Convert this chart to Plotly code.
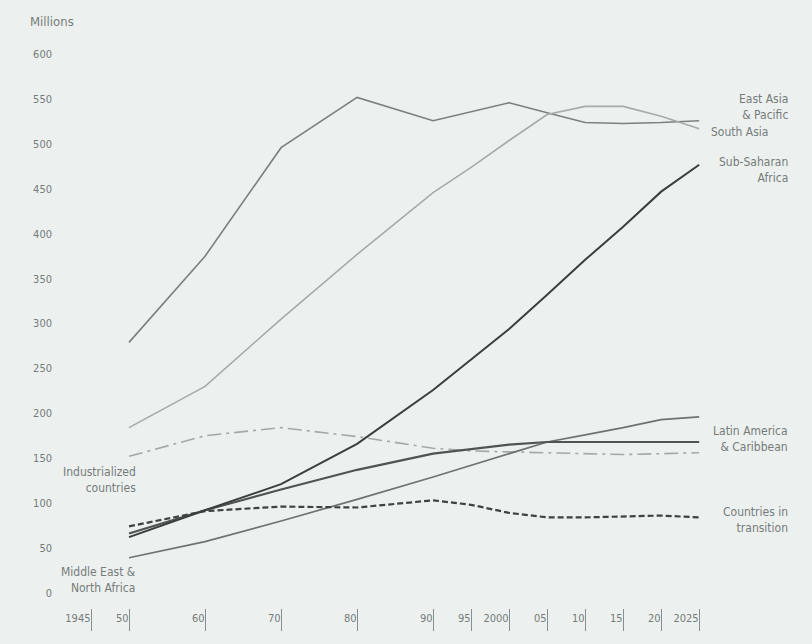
import plotly.graph_objects as go

years = [1950, 1960, 1970, 1980, 1990, 1995, 2000, 2005, 2010, 2015, 2020, 2025]

east_asia = [279, 375, 496, 552, 526, 536, 546, 535, 524, 523, 524, 526]
south_asia = [184, 230, 305, 377, 446, 474, 504, 533, 542, 542, 531, 517]
sub_saharan = [62, 92, 121, 166, 226, 260, 294, 332, 371, 408, 447, 477]
latin_america = [66, 92, 115, 137, 155, 160, 165, 168, 168, 168, 168, 168]
middle_east = [39, 57, 80, 104, 129, 142, 155, 168, 176, 184, 193, 196]
industrialized = [152, 175, 184, 174, 161, 158, 157, 156, 155, 154, 155, 156]
transition = [74, 91, 96, 95, 103, 98, 89, 84, 84, 85, 86, 84]

x_tickvals = [1945, 1950, 1960, 1970, 1980, 1990, 1995, 2000, 2005, 2010, 2015, 2020, 2025]
x_ticktext = ["1945", "50", "60", "70", "80", "90", "95", "2000", "05", "10", "15", "20", "2025"]
y_tickvals = list(range(0, 601, 50))

FONT = "DejaVu Sans Condensed, Liberation Sans Narrow, sans-serif"
TXT = "#767b7a"
BG = "#ecf1ef"

series = [
    ("East Asia & Pacific", east_asia, "#7b807f", 1.6, "solid"),
    ("South Asia", south_asia, "#a6abaa", 1.6, "solid"),
    ("Industrialized countries", industrialized, "#a3a8a7", 1.6, "14px,5px,3px,5px"),
    ("Middle East & North Africa", middle_east, "#6e7372", 1.7, "solid"),
    ("Latin America & Caribbean", latin_america, "#4f5453", 2.2, "solid"),
    ("Countries in transition", transition, "#3e4342", 2.2, "6px,3px"),
    ("Sub-Saharan Africa", sub_saharan, "#3a3f3e", 2.0, "solid"),
]

fig = go.Figure()
for name, vals, color, w, dash in series:
    fig.add_trace(go.Scatter(x=years, y=vals, mode="lines", name=name,
                             line=dict(color=color, width=w, dash=dash),
                             showlegend=False, hoverinfo="skip"))

labels = [
    (2037, 541, "East Asia<br>& Pacific", "right"),
    (2026.3, 513, "South Asia", "left"),
    (2037, 471, "Sub-Saharan<br>Africa", "right"),
    (2037, 171, "Latin America<br>& Caribbean", "right"),
    (2037, 81, "Countries in<br>transition", "right"),
    (1951.2, 126, "Industrialized<br>countries", "right"),
    (1951.2, 14, "Middle East &<br>North Africa", "right"),
]
for x, y, t, anchor in labels:
    fig.add_annotation(x=x, y=y, xref="x", yref="y", text=t, showarrow=False,
                       xanchor=anchor, yanchor="middle", align=anchor,
                       font=dict(family=FONT, size=12, color=TXT))

fig.add_annotation(x=-0.034, y=1.032, xref="paper", yref="paper", text="Millions",
                   showarrow=False, xanchor="left", yanchor="middle",
                   font=dict(family=FONT, size=13, color=TXT))

fig.update_layout(
    width=812, height=644,
    margin=dict(l=53, r=14, t=40, b=36),
    paper_bgcolor=BG, plot_bgcolor=BG,
    font=dict(family=FONT, size=11, color=TXT),
    xaxis=dict(range=[1940, 2038], tickvals=x_tickvals, ticktext=x_ticktext,
               ticks="outside", ticklen=22, tickcolor="#8a8f8e", tickwidth=1,
               ticklabelposition="outside left", showgrid=False, zeroline=False,
               showline=False, tickfont=dict(family=FONT, size=11, color=TXT)),
    yaxis=dict(range=[-17, 616], tickvals=y_tickvals, showgrid=False,
               zeroline=False, showline=False, ticks="", automargin=False,
               tickfont=dict(family=FONT, size=11, color=TXT)),
)

fig.write_html("out.html",
               config={"displayModeBar": False},
               post_script="document.body.style.margin='0';"
                           "document.body.style.background='" + BG + "';")
